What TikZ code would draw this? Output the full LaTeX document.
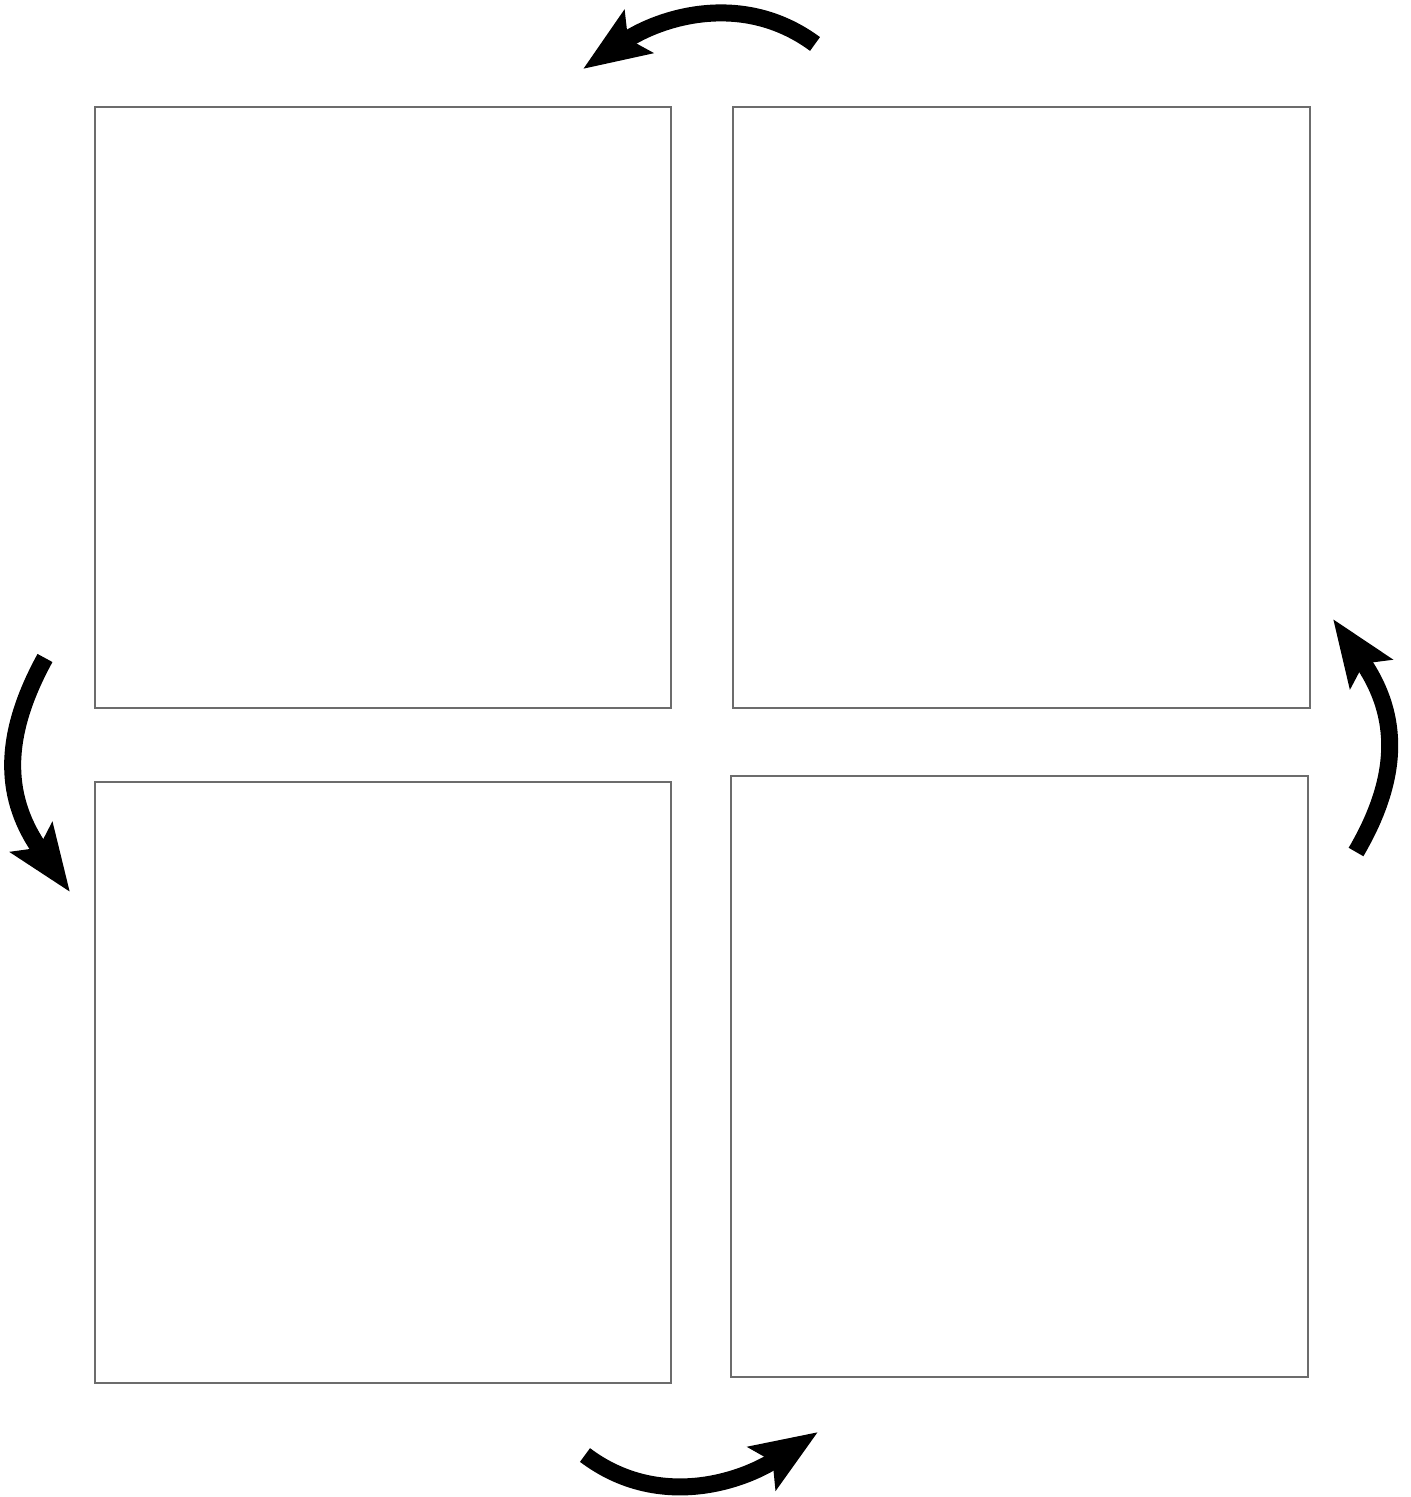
\documentclass[tikz,border=0pt]{standalone}
\usetikzlibrary{arrows.meta}
\definecolor{boxgray}{RGB}{108,108,108}
\begin{document}
\begin{tikzpicture}[x=0.5pt,y=-0.5pt,
  panel/.style={draw=boxgray,line width=1.4pt},
  bigarrow/.style={line width=8.5pt,-{Stealth[length=33pt,width=25pt,inset=6pt]}}]
\useasboundingbox (0,0) rectangle (1410,1497);
\fill[white] (0,0) rectangle (1410,1497);
% panels
\draw[panel] (95,107) rectangle (671,708);
\draw[panel] (733,107) rectangle (1310,708);
\draw[panel] (95,782) rectangle (671,1383);
\draw[panel] (731,776) rectangle (1308,1377);
% arrow end points
\coordinate (tA) at (815,44);  \coordinate (tB) at (583,69);
\coordinate (lA) at (45,658);  \coordinate (lB) at (70,892);
\coordinate (rA) at (1356,852); \coordinate (rB) at (1333,619);
\coordinate (bA) at (585,1455); \coordinate (bB) at (818,1432);
% arrows
\draw[bigarrow] (tA) .. controls (742,-10) and (659,18) .. (tB);
\draw[bigarrow] (lA) .. controls (0,740) and (5,800) .. (lB);
\draw[bigarrow] (rA) .. controls (1404,770) and (1396,710) .. (rB);
\draw[bigarrow] (bA) .. controls (658,1510) and (741,1482) .. (bB);
\end{tikzpicture}
\end{document}
